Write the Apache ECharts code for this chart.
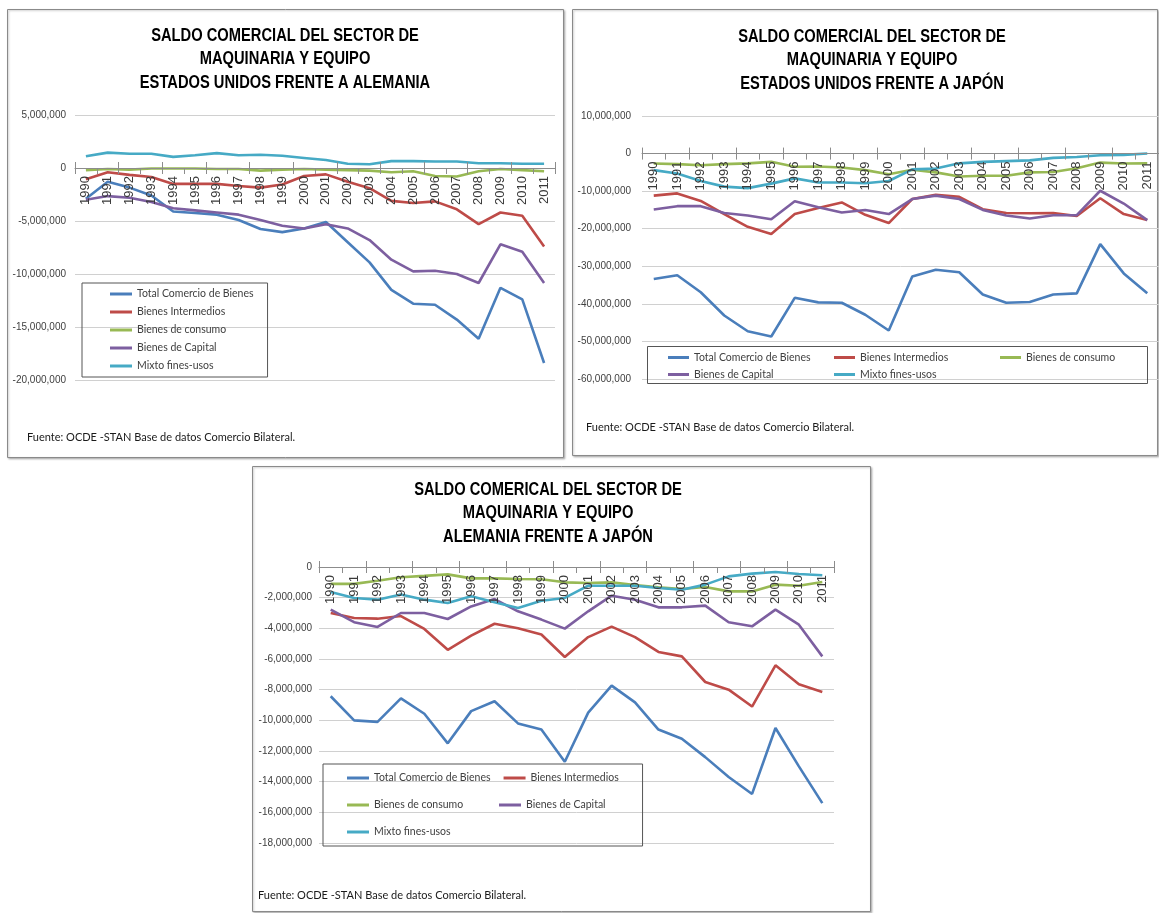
<!DOCTYPE html>
<html>
<head>
<meta charset="utf-8">
<script src="https://cdn.jsdelivr.net/npm/echarts@6/dist/echarts.min.js"></script>
<style>
  html, body { margin: 0; padding: 0; background: #fff; }
  #chart { width: 1159px; height: 913px; }
</style>
</head>
<body>
<div id="chart"></div>
<script>
// Years on the category axis
const years = ['1990','1991','1992','1993','1994','1995','1996','1997','1998','1999','2000',
  '2001','2002','2003','2004','2005','2006','2007','2008','2009','2010','2011'];

const seriesNames = ['Total Comercio de Bienes', 'Bienes Intermedios', 'Bienes de consumo', 'Bienes de Capital', 'Mixto fines-usos'];
const seriesColors = ['#4a7ebb', '#be4b48', '#98b954', '#7d5fa0', '#46aac5'];

// Estados Unidos frente a Alemania
const usDeTotal = [-2900000,-1300000,-1850000,-2600000,-4100000,-4250000,-4400000,-4900000,-5750000,-6050000,-5700000,-5100000,-7000000,-8900000,-11500000,-12800000,-12900000,-14300000,-16100000,-11300000,-12400000,-18400000];
const usDeIntermedios = [-1060000,-400000,-650000,-850000,-1500000,-1500000,-1500000,-1700000,-1850000,-1550000,-750000,-600000,-1300000,-1900000,-3100000,-3300000,-3150000,-3900000,-5300000,-4200000,-4500000,-7400000];
const usDeConsumo = [-200000,-100000,-150000,-50000,-50000,-50000,-100000,-100000,-250000,-150000,-100000,-150000,-200000,-250000,-400000,-300000,-750000,-800000,-300000,-100000,-200000,-300000];
const usDeCapital = [-3000000,-2650000,-2800000,-3200000,-3800000,-4000000,-4200000,-4400000,-4900000,-5450000,-5700000,-5300000,-5700000,-6800000,-8650000,-9750000,-9700000,-10000000,-10850000,-7200000,-7900000,-10850000];
const usDeMixto = [1100000,1450000,1350000,1350000,1050000,1200000,1400000,1200000,1250000,1150000,950000,750000,400000,350000,650000,650000,620000,620000,450000,450000,400000,400000];

// Estados Unidos frente a Japón
const usJpTotal = [-33400000,-32400000,-36900000,-43100000,-47300000,-48700000,-38400000,-39600000,-39700000,-42900000,-47100000,-32700000,-30900000,-31600000,-37500000,-39700000,-39500000,-37500000,-37200000,-24100000,-31900000,-37200000];
const usJpIntermedios = [-11200000,-10600000,-12600000,-16100000,-19500000,-21400000,-16100000,-14500000,-13000000,-16300000,-18500000,-12100000,-11000000,-11500000,-14800000,-15800000,-15900000,-15800000,-16600000,-11900000,-16100000,-17700000];
const usJpConsumo = [-2650000,-2800000,-3100000,-2800000,-2600000,-2200000,-3500000,-3450000,-3700000,-4400000,-5500000,-4300000,-5000000,-6100000,-5900000,-5900000,-5000000,-4900000,-3900000,-2400000,-2650000,-2600000];
const usJpCapital = [-14900000,-14000000,-14000000,-15800000,-16500000,-17500000,-12700000,-14300000,-15700000,-15000000,-16100000,-12100000,-11200000,-12100000,-15000000,-16500000,-17300000,-16400000,-16400000,-9900000,-13300000,-17700000];
const usJpMixto = [-4400000,-5300000,-7300000,-8800000,-9200000,-8000000,-6600000,-7700000,-7700000,-7900000,-7300000,-4200000,-4000000,-2600000,-2200000,-2000000,-1800000,-1150000,-900000,-450000,-350000,0];

// Alemania frente a Japón
const deJpTotal = [-8430000,-10000000,-10100000,-8570000,-9570000,-11500000,-9400000,-8760000,-10200000,-10600000,-12700000,-9500000,-7740000,-8830000,-10600000,-11200000,-12400000,-13700000,-14800000,-10500000,-13000000,-15400000];
const deJpIntermedios = [-3000000,-3330000,-3370000,-3200000,-4040000,-5400000,-4480000,-3700000,-4000000,-4400000,-5870000,-4570000,-3890000,-4570000,-5540000,-5830000,-7500000,-8000000,-9100000,-6410000,-7650000,-8150000];
const deJpConsumo = [-1100000,-1100000,-900000,-670000,-580000,-480000,-740000,-740000,-780000,-800000,-1000000,-1040000,-1000000,-1170000,-1330000,-1430000,-1300000,-1590000,-1590000,-1150000,-1220000,-980000];
const deJpCapital = [-2780000,-3600000,-3910000,-3000000,-3000000,-3390000,-2570000,-2090000,-2890000,-3430000,-4020000,-2890000,-1870000,-2130000,-2630000,-2630000,-2520000,-3600000,-3870000,-2780000,-3760000,-5830000];
const deJpMixto = [-1630000,-2020000,-2130000,-1800000,-2130000,-2350000,-1910000,-2300000,-2670000,-2200000,-2020000,-1220000,-1220000,-1220000,-1370000,-1480000,-1150000,-610000,-430000,-330000,-460000,-540000];

const titles = [
  'SALDO COMERCIAL DEL SECTOR DE\nMAQUINARIA Y EQUIPO\nESTADOS UNIDOS FRENTE A ALEMANIA',
  'SALDO COMERCIAL DEL SECTOR DE\nMAQUINARIA Y EQUIPO\nESTADOS UNIDOS FRENTE A JAPÓN',
  'SALDO COMERICAL DEL SECTOR DE\nMAQUINARIA Y EQUIPO\nALEMANIA FRENTE A JAPÓN'
];
const sourceNote = 'Fuente: OCDE -STAN Base de datos Comercio Bilateral.';

const panelData = [
  [usDeTotal, usDeIntermedios, usDeConsumo, usDeCapital, usDeMixto],
  [usJpTotal, usJpIntermedios, usJpConsumo, usJpCapital, usJpMixto],
  [deJpTotal, deJpIntermedios, deJpConsumo, deJpCapital, deJpMixto]
];

// Layout of the three panels
const panels = [
  { box: [7, 9, 556, 448], grid: { left: 75, top: 115, width: 480, height: 265 },
    y: { min: -20000000, max: 5000000, interval: 5000000, margin: 9 },
    title: { cx: 285, top: 24 }, note: [27, 437] },
  { box: [572, 9, 585, 446], grid: { left: 642, top: 116, width: 518, height: 263 },
    y: { min: -60000000, max: 10000000, interval: 10000000, margin: 11 },
    title: { cx: 872, top: 25 }, note: [586, 427] },
  { box: [252, 466, 618, 445], grid: { left: 319, top: 567, width: 515, height: 276 },
    y: { min: -18000000, max: 0, interval: 2000000, margin: 7 },
    title: { cx: 548, top: 478 }, note: [258, 895] }
];

// distance of the zero line from the top of each plot area
const zeroFromTop = p => p.grid.height * p.y.max / (p.y.max - p.y.min);

const sans = '"Liberation Sans", Arial, sans-serif';
const soft = 'Lato, "Liberation Sans", sans-serif';
const fmt = v => Number(v).toLocaleString('en-US');

const frames = panels.map(p => ({
  type: 'rect', z: -10, silent: true,
  shape: { x: p.box[0] + 0.5, y: p.box[1] + 0.5, width: p.box[2], height: p.box[3] },
  style: { fill: '#fff', stroke: '#8a8a8a', lineWidth: 1, shadowBlur: 2, shadowColor: 'rgba(0,0,0,0.25)', shadowOffsetX: 1, shadowOffsetY: 1 }
}));

// bold condensed headings (horizontally compressed)
const headings = panels.map((p, i) => ({
  type: 'text', silent: true, x: p.title.cx, y: p.title.top, scaleX: 0.84, z: 10,
  style: { text: titles[i], x: 0, y: 0, align: 'center', verticalAlign: 'top',
    fontFamily: sans, fontWeight: 'bold', fontSize: 17.5, lineHeight: 23.5, fill: '#000' }
}));

const notes = panels.map(p => ({
  type: 'text', silent: true, x: p.note[0], y: p.note[1],
  style: { text: sourceNote, fontFamily: soft, fontSize: 11, fill: '#1a1a1a', verticalAlign: 'middle' }
}));

// frame of the middle panel's legend
const legendFrame = {
  type: 'rect', silent: true, z: 1,
  shape: { x: 647.5, y: 346.5, width: 500, height: 37 },
  style: { fill: 'none', stroke: '#555', lineWidth: 1 }
};

const option = {
  backgroundColor: '#ffffff',
  animation: false,
  grid: panels.map(p => Object.assign({ containLabel: false }, p.grid)),
  // category axes sit on the zero line, with tick marks crossing it
  xAxis: panels.map((p, i) => ({
    type: 'category', gridIndex: i, data: years, boundaryGap: true, z: 5,
    position: 'bottom', offset: -(p.grid.height - zeroFromTop(p)),
    axisLine: { onZero: false, lineStyle: { color: '#8c8c8c', width: 1 } },
    axisTick: { show: true, length: 6, lineStyle: { color: '#8c8c8c' } },
    axisLabel: { rotate: 90, interval: 0, margin: 8, fontFamily: sans, fontSize: 13, color: '#3a3a3a' },
    splitLine: { show: false }
  })).concat(panels.map((p, i) => ({
    type: 'category', gridIndex: i, data: years, boundaryGap: true, z: 5,
    position: 'top', offset: -zeroFromTop(p),
    axisLine: { show: false, onZero: false },
    axisTick: { show: true, length: 6, lineStyle: { color: '#8c8c8c' } },
    axisLabel: { show: false },
    splitLine: { show: false }
  }))),
  yAxis: panels.map((p, i) => ({
    type: 'value', gridIndex: i, min: p.y.min, max: p.y.max, interval: p.y.interval,
    axisLine: { show: false }, axisTick: { show: false },
    axisLabel: { formatter: fmt, margin: p.y.margin, fontFamily: sans, fontSize: 10, color: '#404040' },
    splitLine: { lineStyle: { color: '#d0d0d0', width: 1 } }
  })),
  legend: [
    { left: 82, top: 283, orient: 'vertical', padding: [4, 14, 4, 28], itemGap: 4,
      itemWidth: 22, itemHeight: 3, icon: 'rect', selectedMode: false,
      borderColor: '#555', borderWidth: 1, data: seriesNames,
      textStyle: { fontFamily: soft, fontSize: 10.5, color: '#404040', lineHeight: 14 } },
    { left: 647, top: 346, orient: 'horizontal', width: 500, padding: [3, 0, 3, 21], itemGap: 0,
      itemWidth: 21, itemHeight: 3, icon: 'rect', selectedMode: false,
      data: seriesNames,
      textStyle: { fontFamily: soft, fontSize: 10.5, color: '#404040', lineHeight: 17, width: 140 } },
    { left: 323, top: 764, orient: 'horizontal', width: 320, padding: [7, 0, 7, 24], itemGap: 13,
      itemWidth: 22, itemHeight: 3, icon: 'rect', selectedMode: false,
      borderColor: '#555', borderWidth: 1, data: seriesNames,
      textStyle: { fontFamily: soft, fontSize: 10.5, color: '#404040', lineHeight: 14, width: 112 } }
  ],
  graphic: frames.concat(headings, notes, [legendFrame]),
  series: []
};

panelData.forEach((set, pi) => {
  set.forEach((values, si) => {
    option.series.push({
      name: seriesNames[si], type: 'line', xAxisIndex: pi, yAxisIndex: pi,
      data: values, symbol: 'none', smooth: false,
      lineStyle: { width: 2.6, color: seriesColors[si] },
      itemStyle: { color: seriesColors[si] },
      emphasis: { disabled: true }
    });
  });
});

const chart = echarts.init(document.getElementById('chart'), null, { renderer: 'canvas' });
chart.setOption(option);
</script>
</body>
</html>
